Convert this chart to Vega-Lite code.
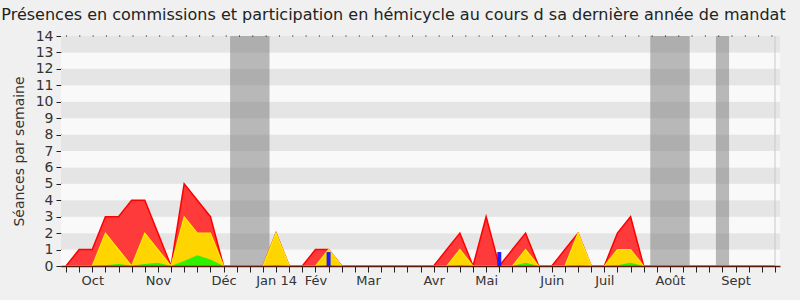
{
  "$schema": "https://vega.github.io/schema/vega-lite/v6.json",
  "autosize": {"type": "none"},
  "width": 719,
  "height": 230,
  "padding": {"left": 61, "top": 36, "right": 20, "bottom": 34},
  "background": "#f0f0f0",
  "config": {
    "font": "DejaVu Sans",
    "view": {"stroke": null},
    "axis": {"grid": false, "labelColor": "#333", "titleColor": "#333", "domainColor": "#222", "tickColor": "#222"}
  },
  "title": {
    "text": "Présences en commissions et participation en hémicycle au cours d sa dernière année de mandat",
    "fontSize": 16,
    "fontWeight": "normal",
    "color": "#222",
    "anchor": "middle",
    "frame": "group",
    "dx": -27,
    "offset": 6
  },
  "datasets": {
    "weeks": [
      {"w": 0, "total": 0, "comm": 0, "hemi": 0},
      {"w": 1, "total": 1, "comm": 0, "hemi": 0},
      {"w": 2, "total": 1, "comm": 0, "hemi": 0},
      {"w": 3, "total": 3, "comm": 2, "hemi": 0.05},
      {"w": 4, "total": 3, "comm": 1, "hemi": 0.12},
      {"w": 5, "total": 4, "comm": 0, "hemi": 0.02},
      {"w": 6, "total": 4, "comm": 2, "hemi": 0.12},
      {"w": 7, "total": 2, "comm": 1, "hemi": 0.2},
      {"w": 8, "total": 0, "comm": 0, "hemi": 0},
      {"w": 9, "total": 5, "comm": 3, "hemi": 0.3},
      {"w": 10, "total": 4, "comm": 2, "hemi": 0.65},
      {"w": 11, "total": 3, "comm": 2, "hemi": 0.4},
      {"w": 12, "total": 0, "comm": 0, "hemi": 0},
      {"w": 13, "total": 0, "comm": 0, "hemi": 0},
      {"w": 14, "total": 0, "comm": 0, "hemi": 0},
      {"w": 15, "total": 0, "comm": 0, "hemi": 0},
      {"w": 16, "total": 2, "comm": 2, "hemi": 0.05},
      {"w": 17, "total": 0, "comm": 0, "hemi": 0},
      {"w": 18, "total": 0, "comm": 0, "hemi": 0},
      {"w": 19, "total": 1, "comm": 0, "hemi": 0},
      {"w": 20, "total": 1, "comm": 1, "hemi": 0.05},
      {"w": 21, "total": 0, "comm": 0, "hemi": 0},
      {"w": 22, "total": 0, "comm": 0, "hemi": 0},
      {"w": 23, "total": 0, "comm": 0, "hemi": 0},
      {"w": 24, "total": 0, "comm": 0, "hemi": 0},
      {"w": 25, "total": 0, "comm": 0, "hemi": 0},
      {"w": 26, "total": 0, "comm": 0, "hemi": 0},
      {"w": 27, "total": 0, "comm": 0, "hemi": 0},
      {"w": 28, "total": 0, "comm": 0, "hemi": 0},
      {"w": 29, "total": 1, "comm": 0, "hemi": 0},
      {"w": 30, "total": 2, "comm": 1, "hemi": 0.05},
      {"w": 31, "total": 0, "comm": 0, "hemi": 0},
      {"w": 32, "total": 3, "comm": 0, "hemi": 0},
      {"w": 33, "total": 0, "comm": 0, "hemi": 0},
      {"w": 34, "total": 1, "comm": 0, "hemi": 0},
      {"w": 35, "total": 2, "comm": 1, "hemi": 0.2},
      {"w": 36, "total": 0, "comm": 0, "hemi": 0},
      {"w": 37, "total": 0, "comm": 0, "hemi": 0},
      {"w": 38, "total": 1, "comm": 0, "hemi": 0},
      {"w": 39, "total": 2, "comm": 2, "hemi": 0.05},
      {"w": 40, "total": 0, "comm": 0, "hemi": 0},
      {"w": 41, "total": 0, "comm": 0, "hemi": 0},
      {"w": 42, "total": 2, "comm": 1, "hemi": 0.05},
      {"w": 43, "total": 3, "comm": 1, "hemi": 0.2},
      {"w": 44, "total": 0, "comm": 0, "hemi": 0},
      {"w": 45, "total": 0, "comm": 0, "hemi": 0},
      {"w": 46, "total": 0, "comm": 0, "hemi": 0},
      {"w": 47, "total": 0, "comm": 0, "hemi": 0},
      {"w": 48, "total": 0, "comm": 0, "hemi": 0},
      {"w": 49, "total": 0, "comm": 0, "hemi": 0},
      {"w": 50, "total": 0, "comm": 0, "hemi": 0},
      {"w": 51, "total": 0, "comm": 0, "hemi": 0},
      {"w": 52, "total": 0, "comm": 0, "hemi": 0},
      {"w": 53, "total": 0, "comm": 0, "hemi": 0},
      {"w": 54, "total": 0, "comm": 0, "hemi": 0}
    ],
    "bands": [
      {"lo": 0, "hi": 1, "shade": "light"},
      {"lo": 1, "hi": 2, "shade": "dark"},
      {"lo": 2, "hi": 3, "shade": "light"},
      {"lo": 3, "hi": 4, "shade": "dark"},
      {"lo": 4, "hi": 5, "shade": "light"},
      {"lo": 5, "hi": 6, "shade": "dark"},
      {"lo": 6, "hi": 7, "shade": "light"},
      {"lo": 7, "hi": 8, "shade": "dark"},
      {"lo": 8, "hi": 9, "shade": "light"},
      {"lo": 9, "hi": 10, "shade": "dark"},
      {"lo": 10, "hi": 11, "shade": "light"},
      {"lo": 11, "hi": 12, "shade": "dark"},
      {"lo": 12, "hi": 13, "shade": "light"},
      {"lo": 13, "hi": 14, "shade": "dark"}
    ],
    "vacances": [
      {"start": 12.5, "end": 15.5},
      {"start": 44.5, "end": 47.5},
      {"start": 49.5, "end": 50.5}
    ],
    "questions": [
      {"w": 20, "n": 0.85},
      {"w": 33, "n": 0.85}
    ]
  },
  "layer": [
    {
      "data": {"name": "bands"},
      "mark": {"type": "rect"},
      "encoding": {
        "y": {"field": "lo", "type": "quantitative", "scale": {"domain": [0, 14], "nice": false},
          "axis": {"title": "Séances par semaine", "values": [0,1,2,3,4,5,6,7,8,9,10,11,12,13,14], "titleFontSize": 14, "titleFontWeight": "normal", "titlePadding": 9, "labelFontSize": 14, "labelPadding": 3, "tickSize": 5}},
        "y2": {"field": "hi"},
        "color": {"field": "shade", "type": "nominal", "scale": {"domain": ["light", "dark"], "range": ["#f9f9f9", "#e5e5e5"]}, "legend": null}
      }
    },
    {
      "data": {"name": "vacances"},
      "mark": {"type": "rect", "color": "#787878", "opacity": 0.5},
      "encoding": {
        "x": {"field": "start", "type": "quantitative", "scale": {"domain": [0, 54], "nice": false, "zero": false},
          "axis": {"title": null, "values": [0,1,2,3,4,5,6,7,8,9,10,11,12,13,14,15,16,17,18,19,20,21,22,23,24,25,26,27,28,29,30,31,32,33,34,35,36,37,38,39,40,41,42,43,44,45,46,47,48,49,50,51,52,53,54], "labelExpr": "datum.value==2?'Oct':datum.value==7?'Nov':datum.value==12?'Déc':datum.value==16?'Jan 14':datum.value==19?'Fév':datum.value==23?'Mar':datum.value==28?'Avr':datum.value==32?'Mai':datum.value==37?'Juin':datum.value==41?'Juil':datum.value==46?'Août':datum.value==51?'Sept':''", "labelOverlap": false, "labelFontSize": 13, "labelPadding": 2, "tickSize": 6, "labelFlush": false, "domainColor": "#5a1a0a", "domainWidth": 1.5, "zindex": 1}},
        "x2": {"field": "end"}
      }
    },
    {
      "data": {"name": "weeks"},
      "mark": {"type": "area", "color": "#ff3a3a", "opacity": 1, "line": {"color": "#ff0000", "strokeWidth": 1.5}},
      "encoding": {
        "x": {"field": "w", "type": "quantitative",
          "axis": {"title": null, "values": [0,1,2,3,4,5,6,7,8,9,10,11,12,13,14,15,16,17,18,19,20,21,22,23,24,25,26,27,28,29,30,31,32,33,34,35,36,37,38,39,40,41,42,43,44,45,46,47,48,49,50,51,52,53,54], "labelExpr": "datum.value==2?'Oct':datum.value==7?'Nov':datum.value==12?'Déc':datum.value==16?'Jan 14':datum.value==19?'Fév':datum.value==23?'Mar':datum.value==28?'Avr':datum.value==32?'Mai':datum.value==37?'Juin':datum.value==41?'Juil':datum.value==46?'Août':datum.value==51?'Sept':''", "labelOverlap": false, "labelFontSize": 13, "labelPadding": 2, "tickSize": 6, "labelFlush": false, "domainColor": "#5a1a0a", "domainWidth": 1.5, "zindex": 1}},
        "y": {"field": "total", "type": "quantitative",
          "axis": {"title": "Séances par semaine", "values": [0,1,2,3,4,5,6,7,8,9,10,11,12,13,14], "titleFontSize": 14, "titleFontWeight": "normal", "titlePadding": 9, "labelFontSize": 14, "labelPadding": 3, "tickSize": 5}}
      }
    },
    {
      "data": {"name": "weeks"},
      "mark": {"type": "area", "color": "#ffd500", "opacity": 1, "line": {"color": "#ffee00", "strokeWidth": 1.2}},
      "encoding": {
        "x": {"field": "w", "type": "quantitative",
          "axis": {"title": null, "values": [0,1,2,3,4,5,6,7,8,9,10,11,12,13,14,15,16,17,18,19,20,21,22,23,24,25,26,27,28,29,30,31,32,33,34,35,36,37,38,39,40,41,42,43,44,45,46,47,48,49,50,51,52,53,54], "labelExpr": "datum.value==2?'Oct':datum.value==7?'Nov':datum.value==12?'Déc':datum.value==16?'Jan 14':datum.value==19?'Fév':datum.value==23?'Mar':datum.value==28?'Avr':datum.value==32?'Mai':datum.value==37?'Juin':datum.value==41?'Juil':datum.value==46?'Août':datum.value==51?'Sept':''", "labelOverlap": false, "labelFontSize": 13, "labelPadding": 2, "tickSize": 6, "labelFlush": false, "domainColor": "#5a1a0a", "domainWidth": 1.5, "zindex": 1}},
        "y": {"field": "comm", "type": "quantitative",
          "axis": {"title": "Séances par semaine", "values": [0,1,2,3,4,5,6,7,8,9,10,11,12,13,14], "titleFontSize": 14, "titleFontWeight": "normal", "titlePadding": 9, "labelFontSize": 14, "labelPadding": 3, "tickSize": 5}}
      }
    },
    {
      "data": {"name": "weeks"},
      "mark": {"type": "area", "color": "#2ef000", "opacity": 1},
      "encoding": {
        "x": {"field": "w", "type": "quantitative",
          "axis": {"title": null, "values": [0,1,2,3,4,5,6,7,8,9,10,11,12,13,14,15,16,17,18,19,20,21,22,23,24,25,26,27,28,29,30,31,32,33,34,35,36,37,38,39,40,41,42,43,44,45,46,47,48,49,50,51,52,53,54], "labelExpr": "datum.value==2?'Oct':datum.value==7?'Nov':datum.value==12?'Déc':datum.value==16?'Jan 14':datum.value==19?'Fév':datum.value==23?'Mar':datum.value==28?'Avr':datum.value==32?'Mai':datum.value==37?'Juin':datum.value==41?'Juil':datum.value==46?'Août':datum.value==51?'Sept':''", "labelOverlap": false, "labelFontSize": 13, "labelPadding": 2, "tickSize": 6, "labelFlush": false, "domainColor": "#5a1a0a", "domainWidth": 1.5, "zindex": 1}},
        "y": {"field": "hemi", "type": "quantitative",
          "axis": {"title": "Séances par semaine", "values": [0,1,2,3,4,5,6,7,8,9,10,11,12,13,14], "titleFontSize": 14, "titleFontWeight": "normal", "titlePadding": 9, "labelFontSize": 14, "labelPadding": 3, "tickSize": 5}}
      }
    },
    {
      "data": {"name": "questions"},
      "mark": {"type": "bar", "color": "#1e1eff", "size": 4},
      "encoding": {
        "x": {"field": "w", "type": "quantitative",
          "axis": {"title": null, "values": [0,1,2,3,4,5,6,7,8,9,10,11,12,13,14,15,16,17,18,19,20,21,22,23,24,25,26,27,28,29,30,31,32,33,34,35,36,37,38,39,40,41,42,43,44,45,46,47,48,49,50,51,52,53,54], "labelExpr": "datum.value==2?'Oct':datum.value==7?'Nov':datum.value==12?'Déc':datum.value==16?'Jan 14':datum.value==19?'Fév':datum.value==23?'Mar':datum.value==28?'Avr':datum.value==32?'Mai':datum.value==37?'Juin':datum.value==41?'Juil':datum.value==46?'Août':datum.value==51?'Sept':''", "labelOverlap": false, "labelFontSize": 13, "labelPadding": 2, "tickSize": 6, "labelFlush": false, "domainColor": "#5a1a0a", "domainWidth": 1.5, "zindex": 1}},
        "y": {"field": "n", "type": "quantitative",
          "axis": {"title": "Séances par semaine", "values": [0,1,2,3,4,5,6,7,8,9,10,11,12,13,14], "titleFontSize": 14, "titleFontWeight": "normal", "titlePadding": 9, "labelFontSize": 14, "labelPadding": 3, "tickSize": 5}}
      }
    },
    {
      "data": {"values": [{}]},
      "mark": {"type": "rule", "color": "#000", "strokeDash": [1, 12.31], "strokeWidth": 1},
      "encoding": {
        "x": {"datum": 0, "type": "quantitative",
          "axis": {"title": null, "values": [0,1,2,3,4,5,6,7,8,9,10,11,12,13,14,15,16,17,18,19,20,21,22,23,24,25,26,27,28,29,30,31,32,33,34,35,36,37,38,39,40,41,42,43,44,45,46,47,48,49,50,51,52,53,54], "labelExpr": "datum.value==2?'Oct':datum.value==7?'Nov':datum.value==12?'Déc':datum.value==16?'Jan 14':datum.value==19?'Fév':datum.value==23?'Mar':datum.value==28?'Avr':datum.value==32?'Mai':datum.value==37?'Juin':datum.value==41?'Juil':datum.value==46?'Août':datum.value==51?'Sept':''", "labelOverlap": false, "labelFontSize": 13, "labelPadding": 2, "tickSize": 6, "labelFlush": false, "domainColor": "#5a1a0a", "domainWidth": 1.5, "zindex": 1}},
        "x2": {"datum": 54},
        "y": {"datum": 14, "type": "quantitative",
          "axis": {"title": "Séances par semaine", "values": [0,1,2,3,4,5,6,7,8,9,10,11,12,13,14], "titleFontSize": 14, "titleFontWeight": "normal", "titlePadding": 9, "labelFontSize": 14, "labelPadding": 3, "tickSize": 5}}
      }
    },
    {
      "data": {"values": [{}]},
      "mark": {"type": "rule", "color": "#c8c8c8", "strokeWidth": 1},
      "encoding": {
        "x": {"datum": 54, "type": "quantitative",
          "axis": {"title": null, "values": [0,1,2,3,4,5,6,7,8,9,10,11,12,13,14,15,16,17,18,19,20,21,22,23,24,25,26,27,28,29,30,31,32,33,34,35,36,37,38,39,40,41,42,43,44,45,46,47,48,49,50,51,52,53,54], "labelExpr": "datum.value==2?'Oct':datum.value==7?'Nov':datum.value==12?'Déc':datum.value==16?'Jan 14':datum.value==19?'Fév':datum.value==23?'Mar':datum.value==28?'Avr':datum.value==32?'Mai':datum.value==37?'Juin':datum.value==41?'Juil':datum.value==46?'Août':datum.value==51?'Sept':''", "labelOverlap": false, "labelFontSize": 13, "labelPadding": 2, "tickSize": 6, "labelFlush": false, "domainColor": "#5a1a0a", "domainWidth": 1.5, "zindex": 1}},
        "y": {"datum": 0, "type": "quantitative",
          "axis": {"title": "Séances par semaine", "values": [0,1,2,3,4,5,6,7,8,9,10,11,12,13,14], "titleFontSize": 14, "titleFontWeight": "normal", "titlePadding": 9, "labelFontSize": 14, "labelPadding": 3, "tickSize": 5}},
        "y2": {"datum": 14}
      }
    }
  ]
}
